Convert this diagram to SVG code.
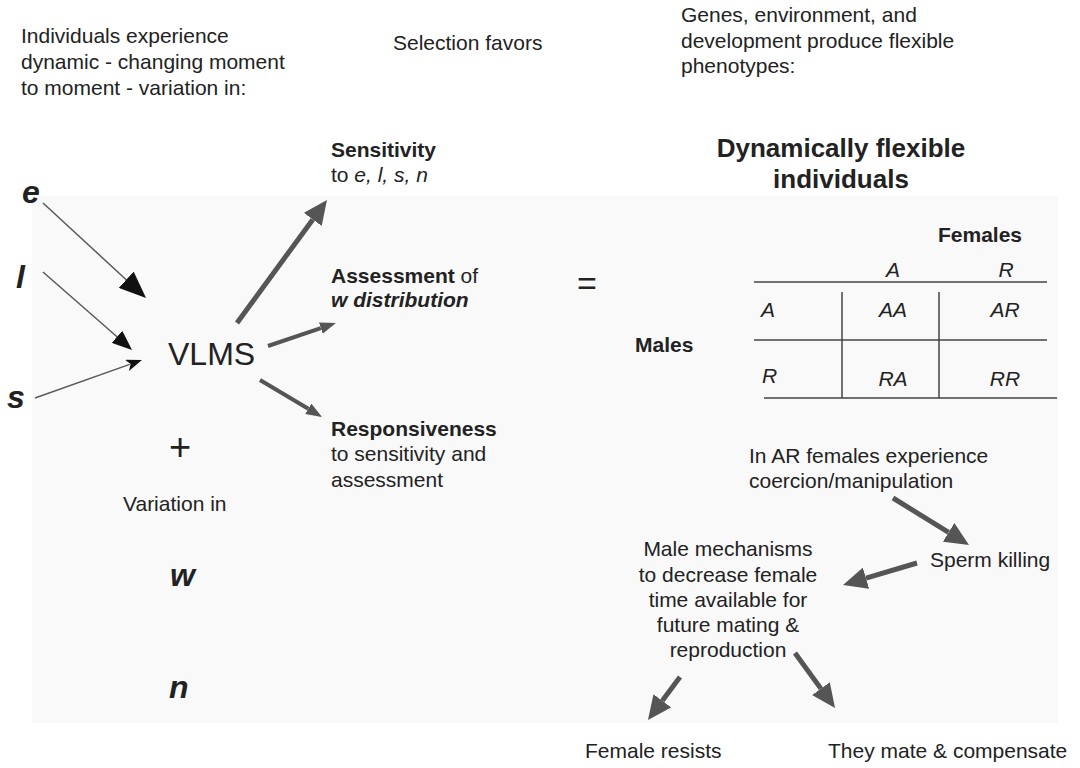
<svg xmlns="http://www.w3.org/2000/svg" width="1080" height="768" viewBox="0 0 1080 768">
<style>
text{font-family:"Liberation Sans",Arial,sans-serif;fill:#222;font-size:21px}
.b{font-weight:bold}
.i{font-style:italic}
.bi{font-weight:bold;font-style:italic}
.var{font-weight:bold;font-style:italic;font-size:32px}
.thin{stroke:#5a5a5a;stroke-width:1.5;fill:none}
.thick{stroke:#555;stroke-width:5;fill:none}
.mid{stroke:#555;stroke-width:4;fill:none}
.grid{stroke:#444;stroke-width:1.5;fill:none}
</style>
<defs>
<marker id="kL" viewBox="0 0 27 22" refX="0" refY="11" markerWidth="27" markerHeight="22" markerUnits="userSpaceOnUse" orient="auto"><path d="M0,0 L27,11 L0,22 z" fill="#111"/></marker>
<marker id="kM" viewBox="0 0 20 16" refX="0" refY="8" markerWidth="20" markerHeight="16" markerUnits="userSpaceOnUse" orient="auto"><path d="M0,0 L20,8 L0,16 z" fill="#111"/></marker>
<marker id="kS" viewBox="0 0 16 12" refX="3" refY="6" markerWidth="16" markerHeight="12" markerUnits="userSpaceOnUse" orient="auto"><path d="M0,0 L16,6 L0,12 L4,6 z" fill="#111"/></marker>
<marker id="gL" viewBox="0 0 24 22" refX="0" refY="11" markerWidth="24" markerHeight="22" markerUnits="userSpaceOnUse" orient="auto"><path d="M0,0 L24,11 L0,22 z" fill="#555"/></marker>
<marker id="gS" viewBox="0 0 16 12" refX="0" refY="6" markerWidth="16" markerHeight="12" markerUnits="userSpaceOnUse" orient="auto"><path d="M0,0 L16,6 L0,12 z" fill="#555"/></marker>
</defs>
<rect x="32" y="196" width="1026" height="527" fill="#f9f9f9"/>

<g id="header-left"><text x="21" y="43">Individuals experience</text><text x="21" y="69">dynamic - changing moment</text><text x="21" y="95">to moment - variation in:</text></g>
<g id="header-mid"><text x="393" y="50">Selection favors</text></g>
<g id="header-right"><text x="681" y="22">Genes, environment, and</text><text x="681" y="48">development produce flexible</text><text x="681" y="73">phenotypes:</text></g>

<g id="node-e"><text class="var" x="22" y="203">e</text></g>
<g id="node-l"><text class="var" x="16" y="288">l</text></g>
<g id="node-s"><text class="var" x="7" y="408">s</text></g>
<g id="node-vlms"><text x="168" y="365" style="font-size:32px">VLMS</text></g>
<g id="node-plus"><text x="180" y="460" text-anchor="middle" style="font-size:38px">+</text></g>
<g id="node-variation"><text x="123" y="511">Variation in</text></g>
<g id="node-w"><text class="var" x="170" y="586">w</text></g>
<g id="node-n"><text class="var" x="169" y="698">n</text></g>

<g id="node-sensitivity"><text class="b" x="331" y="157">Sensitivity</text><text x="331" y="182">to <tspan class="i">e, l, s, n</tspan></text></g>
<g id="node-assessment"><text x="331" y="283"><tspan class="b">Assessment</tspan> of</text><text class="bi" x="331" y="307">w distribution</text></g>
<g id="node-responsiveness"><text class="b" x="331" y="436">Responsiveness</text><text x="331" y="461">to sensitivity and</text><text x="331" y="487">assessment</text></g>

<g id="node-equals"><text x="587" y="295" text-anchor="middle" style="font-size:34px">=</text></g>
<g id="node-title"><text class="b" x="841" y="157" text-anchor="middle" style="font-size:26px">Dynamically flexible</text><text class="b" x="841" y="188" text-anchor="middle" style="font-size:26px">individuals</text></g>

<g id="node-table">
<text class="b" x="938" y="242">Females</text>
<text class="b" x="635" y="352">Males</text>
<text class="i" x="893" y="277" text-anchor="middle">A</text>
<text class="i" x="1006" y="277" text-anchor="middle">R</text>
<text class="i" x="761" y="317">A</text>
<text class="i" x="893" y="317" text-anchor="middle">AA</text>
<text class="i" x="1005" y="317" text-anchor="middle">AR</text>
<text class="i" x="762" y="383">R</text>
<text class="i" x="893" y="386" text-anchor="middle">RA</text>
<text class="i" x="1005" y="386" text-anchor="middle">RR</text>
<path class="grid" d="M754,282 L1047,282 M754,340 L1047,340 M764,398 L1057,398 M842,292 L842,398 M939,292 L939,398"/>
</g>

<g id="node-coercion"><text x="749" y="463">In AR females experience</text><text x="749" y="488">coercion/manipulation</text></g>
<g id="node-sperm"><text x="930" y="567">Sperm killing</text></g>
<g id="node-male-mech" text-anchor="middle"><text x="728" y="556">Male mechanisms</text><text x="728" y="582">to decrease female</text><text x="728" y="607">time available for</text><text x="728" y="632">future mating &amp;</text><text x="728" y="657">reproduction</text></g>
<g id="node-resists"><text x="585" y="758">Female resists</text></g>
<g id="node-compensate"><text x="828" y="758">They mate &amp; compensate</text></g>

<g id="connectors">
<line class="thin" x1="43" y1="203" x2="126.2" y2="279.7" marker-end="url(#kL)"/>
<line class="thin" x1="43" y1="272" x2="117" y2="336.8" marker-end="url(#kM)"/>
<line class="thin" x1="35" y1="398" x2="129.7" y2="364.4" marker-end="url(#kS)"/>
<line class="thick" x1="237" y1="323" x2="312.8" y2="219.4" marker-end="url(#gL)"/>
<line class="mid" x1="268" y1="346" x2="320.8" y2="328.1" marker-end="url(#gS)"/>
<line class="mid" x1="260" y1="380" x2="308.3" y2="408.8" marker-end="url(#gS)"/>
<line class="thick" x1="893" y1="498" x2="948.6" y2="532.4" marker-end="url(#gL)"/>
<line class="thick" x1="917" y1="563" x2="866" y2="578.2" marker-end="url(#gL)"/>
<line class="thick" x1="795" y1="653" x2="820.9" y2="688.6" marker-end="url(#gL)"/>
<line class="thick" x1="680" y1="677" x2="662.3" y2="700.8" marker-end="url(#gL)"/>
</g>
</svg>
